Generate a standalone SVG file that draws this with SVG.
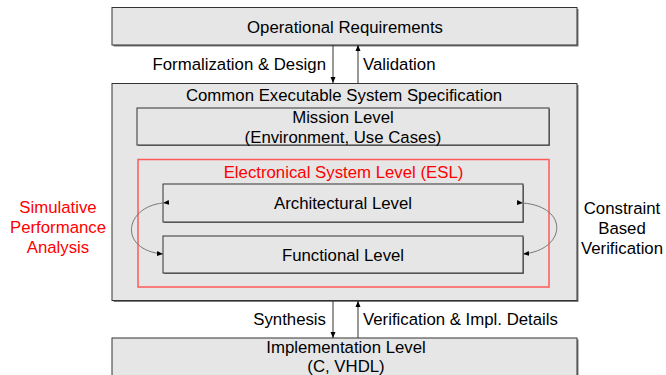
<svg xmlns="http://www.w3.org/2000/svg" width="666" height="375" viewBox="0 0 666 375">
<style>
text{font-family:"Liberation Sans",Arial,sans-serif;font-size:16.8px;fill:#000}
.c{text-anchor:middle}
.r{text-anchor:end}
.red{fill:#ff0000}
.box{fill:#e6e6e6;stroke:#333;stroke-width:1}
.sh{fill:#7a7a7a}
.esl{fill:none;stroke:#ff5a5a;stroke-width:1.5}
.ln{stroke:#333;stroke-width:1;fill:none}
.cv{stroke:#777;stroke-width:1;fill:none}
</style>
<defs>
<marker id="ah" viewBox="0 0 6 6" refX="6" refY="3" markerWidth="6" markerHeight="6" orient="auto" markerUnits="userSpaceOnUse">
<path d="M0,0.5 L6,3 L0,5.5 Z" fill="#000"/>
</marker>
</defs>
<rect width="666" height="375" fill="#fff"/>
<g id="operational">
<rect class="sh" x="113.5" y="9" width="465" height="37.5"/>
<rect class="box" x="112" y="7.5" width="465" height="37.5"/>
<text class="c" x="345" y="33">Operational Requirements</text>
</g>
<g id="spec">
<rect class="sh" x="113.5" y="85" width="465" height="217"/>
<rect class="box" x="112" y="83.5" width="465" height="217"/>
<text class="c" x="344" y="101">Common Executable System Specification</text>
</g>
<g id="mission">
<rect class="sh" x="138" y="109" width="412" height="37"/>
<rect class="box" x="137" y="108" width="412" height="37"/>
<text class="c" x="343" y="123">Mission Level</text>
<text class="c" x="343" y="143">(Environment, Use Cases)</text>
</g>
<g id="esl">
<rect class="esl" x="138" y="159.5" width="411" height="127.5"/>
<text class="c red" x="343.5" y="178">Electronical System Level (ESL)</text>
</g>
<g id="architectural">
<rect class="sh" x="164" y="185" width="360" height="38"/>
<rect class="box" x="163" y="184" width="360" height="38"/>
<text class="c" x="343" y="209">Architectural Level</text>
</g>
<g id="functional">
<rect class="sh" x="164" y="237" width="360" height="37"/>
<rect class="box" x="163" y="236" width="360" height="37"/>
<text class="c" x="343" y="261">Functional Level</text>
</g>
<g id="implementation">
<rect class="sh" x="113.5" y="339.5" width="465" height="40"/>
<rect class="box" x="112" y="338" width="465" height="40"/>
<text class="c" x="346" y="353">Implementation Level</text>
<text class="c" x="346" y="372">(C, VHDL)</text>
</g>
<g id="simulative">
<text class="c red" x="58" y="213">Simulative</text>
<text class="c red" x="58" y="233">Performance</text>
<text class="c red" x="58" y="253">Analysis</text>
</g>
<g id="constraint">
<text class="c" x="622" y="214">Constraint</text>
<text class="c" x="622" y="234">Based</text>
<text class="c" x="622" y="254">Verification</text>
</g>
<g id="connectors">
<line class="ln" x1="333" y1="45" x2="333" y2="83" marker-end="url(#ah)"/>
<line class="ln" x1="358" y1="83" x2="358" y2="45" marker-end="url(#ah)"/>
<line class="ln" x1="333" y1="301" x2="333" y2="338" marker-end="url(#ah)"/>
<line class="ln" x1="358" y1="338" x2="358" y2="301" marker-end="url(#ah)"/>
<path class="cv" d="M163,203 C124,207 118,250 163,254" marker-start="url(#ah)" marker-end="url(#ah)"/>
<path class="cv" d="M523,203 C570,207 566,250 523,254" marker-start="url(#ah)" marker-end="url(#ah)"/>
<text class="r" x="326" y="70">Formalization &amp; Design</text>
<text x="363" y="70">Validation</text>
<text class="r" x="326" y="325">Synthesis</text>
<text x="363" y="325">Verification &amp; Impl. Details</text>
</g>
</svg>
